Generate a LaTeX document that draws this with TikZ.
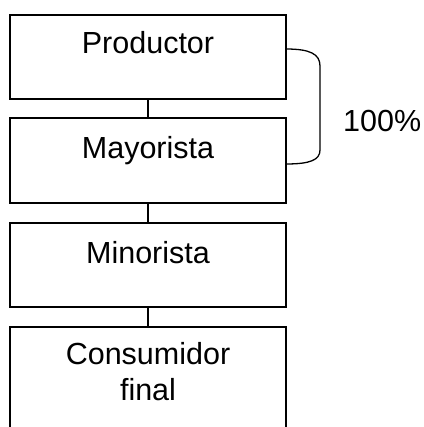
\documentclass[tikz,border=0pt]{standalone}
\usepackage{fontspec}
\setmainfont{Liberation Sans}
\begin{document}
\begin{tikzpicture}[x=1pt,y=-1pt,
  box/.style={draw,line width=1.5pt,minimum width=276pt,inner sep=0pt,outer sep=0pt},
  lbl/.style={anchor=base,inner sep=0pt,font=\fontsize{30.5}{36}\selectfont,align=center},
  link/.style={line width=1.3pt}]
\useasboundingbox (0,0) rectangle (423,427);
\clip (0,0) rectangle (423,427);
\node[box,minimum height=84pt] (b1) at (148,57) {};
\node[box,minimum height=85pt] (b2) at (148,160.5) {};
\node[box,minimum height=84pt] (b3) at (148,265) {};
\node[box,minimum height=120pt] (b4) at (148,387) {};
\node[lbl] (t1) at (148,54) {Productor};
\node[lbl] (t2) at (148,159) {Mayorista};
\node[lbl] (t3) at (148,263) {Minorista};
\node[lbl] (t4) at (148,400) {Consumidor\\final};
\draw[link] (b1.south) -- (b2.north);
\draw[link] (b2.south) -- (b3.north);
\draw[link] (b3.south) -- (b4.north);
\coordinate (bt) at (286,49);
\coordinate (bb) at (286,164);
\draw[link] (bt) .. controls (310,49) and (320,54) .. (320,66) -- (320,150) .. controls (320,160) and (310,164) .. (bb);
\node[anchor=base west,inner sep=0pt,font=\fontsize{30.5}{36}\selectfont] (pct) at (343,132) {100\%};
\end{tikzpicture}
\end{document}
